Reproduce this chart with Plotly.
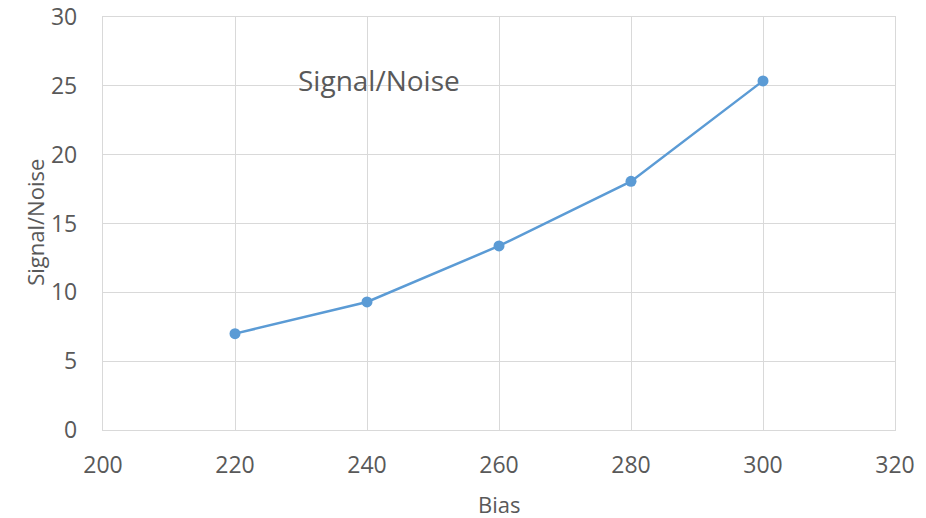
import plotly.graph_objects as go

bias = [220, 240, 260, 280, 300]
signal_noise = [7.0, 9.3, 13.37, 18.06, 25.36]

x_ticks = [200, 220, 240, 260, 280, 300, 320]
y_ticks = [0, 5, 10, 15, 20, 25, 30]

line_color = "#5b9bd5"
grid_color = "#d9d9d9"
text_color = "#595959"
font_family = "Open Sans, Lato, sans-serif"

fig = go.Figure()
fig.add_trace(go.Scatter(
    x=bias, y=signal_noise, mode="lines+markers",
    line=dict(color=line_color, width=2.5),
    marker=dict(color=line_color, size=11),
    showlegend=False,
))

# chart title placed inside the plotting area
fig.add_annotation(
    text="Signal/Noise", xref="paper", yref="paper",
    x=0.349, y=0.847, showarrow=False, xanchor="center", yanchor="middle",
    font=dict(family=font_family, size=28, color=text_color),
)
# axis titles
fig.add_annotation(
    text="Bias", xref="paper", yref="paper",
    x=0.5, y=-0.179, showarrow=False, xanchor="center", yanchor="middle",
    font=dict(family=font_family, size=22, color=text_color),
)
fig.add_annotation(
    text="Signal/Noise", xref="paper", yref="paper", textangle=-90,
    x=-0.0852, y=0.503, showarrow=False, xanchor="center", yanchor="middle",
    font=dict(family=font_family, size=22, color=text_color),
)

fig.update_xaxes(
    range=[200, 320], tickvals=x_ticks, showgrid=True, gridcolor=grid_color,
    gridwidth=1.3, showline=True, linecolor=grid_color, linewidth=1.3,
    mirror=True, zeroline=False, ticks="", ticklabelstandoff=14,
    automargin=False, ticklabeloverflow="allow",
    tickfont=dict(family=font_family, size=23, color=text_color),
)
fig.update_yaxes(
    range=[0, 30], tickvals=y_ticks, showgrid=True, gridcolor=grid_color,
    gridwidth=1.3, showline=True, linecolor=grid_color, linewidth=1.3,
    mirror=True, zeroline=False, ticks="", ticklabelstandoff=20,
    automargin=False, ticklabeloverflow="allow",
    tickfont=dict(family=font_family, size=23, color=text_color),
)

fig.update_layout(
    width=926, height=518,
    margin=dict(l=103, r=31, t=17, b=88),
    paper_bgcolor="white", plot_bgcolor="white",
)

fig.write_html("out.html")
